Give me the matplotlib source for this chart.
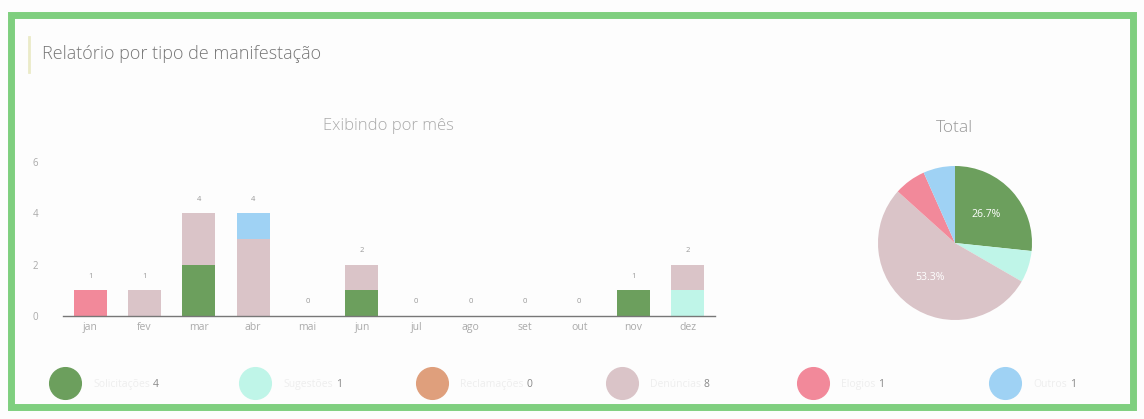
import matplotlib.pyplot as plt
import numpy as np

plt.rcParams['font.family'] = ['Open Sans', 'DejaVu Sans']

months = ['jan', 'fev', 'mar', 'abr', 'mai', 'jun', 'jul', 'ago', 'set', 'out', 'nov', 'dez']
categories = ['Solicitações', 'Sugestões', 'Reclamações', 'Denúncias', 'Elogios', 'Outros']
colors = ['#6c9f5d', '#bff5e8', '#df9f7c', '#dac4c8', '#f2899a', '#9fd2f4']

solicitacoes = [0, 0, 2, 0, 0, 1, 0, 0, 0, 0, 1, 0]
sugestoes    = [0, 0, 0, 0, 0, 0, 0, 0, 0, 0, 0, 1]
reclamacoes  = [0, 0, 0, 0, 0, 0, 0, 0, 0, 0, 0, 0]
denuncias    = [0, 1, 2, 3, 0, 1, 0, 0, 0, 0, 0, 1]
elogios      = [1, 0, 0, 0, 0, 0, 0, 0, 0, 0, 0, 0]
outros       = [0, 0, 0, 1, 0, 0, 0, 0, 0, 0, 0, 0]

series = [solicitacoes, sugestoes, reclamacoes, denuncias, elogios, outros]
totals = [sum(s) for s in series]
month_totals = np.sum(series, axis=0)

W, H = 1144, 419
fig = plt.figure(figsize=(W / 100, H / 100), dpi=100)
fig.patch.set_facecolor('#fdfdfd')

# overlay for frame, title and legend (pixel coords)
ov = fig.add_axes([0, 0, 1, 1])
ov.set_xlim(0, W)
ov.set_ylim(H, 0)
ov.axis('off')
ov.add_patch(plt.Rectangle((11, 15), 1122, 392, fill=False, edgecolor='#7fcf7f', linewidth=5))
ov.plot([29, 29], [37, 72], color='#ebebc8', linewidth=2)
ov.text(42, 54, 'Relatório por tipo de manifestação', fontsize=13, color='#777777',
        va='center', ha='left', fontweight='light')
ov.text(388, 126, 'Exibindo por mês', fontsize=12, color='#aaaaaa', ha='center', va='center',
        fontweight='light')
ov.text(954, 128, 'Total', fontsize=12.5, color='#999999', ha='center', va='center',
        fontweight='light')

renderer = fig.canvas.get_renderer()
leg_x = [65, 255, 432, 622, 813, 1005]
for i, cat in enumerate(categories):
    ov.scatter(leg_x[i], 383, s=520, color=colors[i], zorder=3)
    t = ov.text(leg_x[i] + 28, 384, cat, fontsize=7.5, color='#eeeeee', va='center', ha='left')
    x1 = t.get_window_extent(renderer).x1
    ov.text(x1 + 3, 384, str(totals[i]), fontsize=7.5, color='#888888', va='center', ha='left')

# stacked bars
ax = fig.add_axes([63 / W, 1 - 316 / H, 652 / W, 154 / H])
x = np.arange(len(months))
bottom = np.zeros(len(months))
for s, c in zip(series, colors):
    ax.bar(x, s, width=0.61, bottom=bottom, color=c, linewidth=0)
    bottom += np.array(s)
for xi, t in zip(x, month_totals):
    ax.text(xi, t + 0.55, str(t), fontsize=5.5, color='#999999', ha='center', va='center')
ax.set_xlim(-0.5, 11.5)
ax.set_ylim(0, 6)
ax.set_yticks([0, 2, 4, 6])
ax.set_xticks(x)
ax.set_xticklabels(months)
ax.tick_params(axis='both', length=0, colors='#aaaaaa', labelsize=7.5)
ax.tick_params(axis='y', pad=18, labelsize=7)
ax.tick_params(axis='x', pad=4)
for sp in ['top', 'right', 'left']:
    ax.spines[sp].set_visible(False)
ax.spines['bottom'].set_color('#777777')
ax.spines['bottom'].set_linewidth(1)
ax.patch.set_alpha(0)

# pie
axp = fig.add_axes([878 / W, 1 - 320 / H, 154 / W, 154 / H])
def fmt(p):
    return '%.1f%%' % p if p > 20 else ''
axp.pie(totals, colors=colors, startangle=90, counterclock=False, autopct=fmt,
        pctdistance=0.55, textprops=dict(color='white', fontsize=7.5),
        wedgeprops=dict(linewidth=0))
axp.set_xlim(-1, 1)
axp.set_ylim(-1, 1)
axp.set_aspect('equal')

fig.savefig('out.png', dpi=100, facecolor=fig.get_facecolor())
